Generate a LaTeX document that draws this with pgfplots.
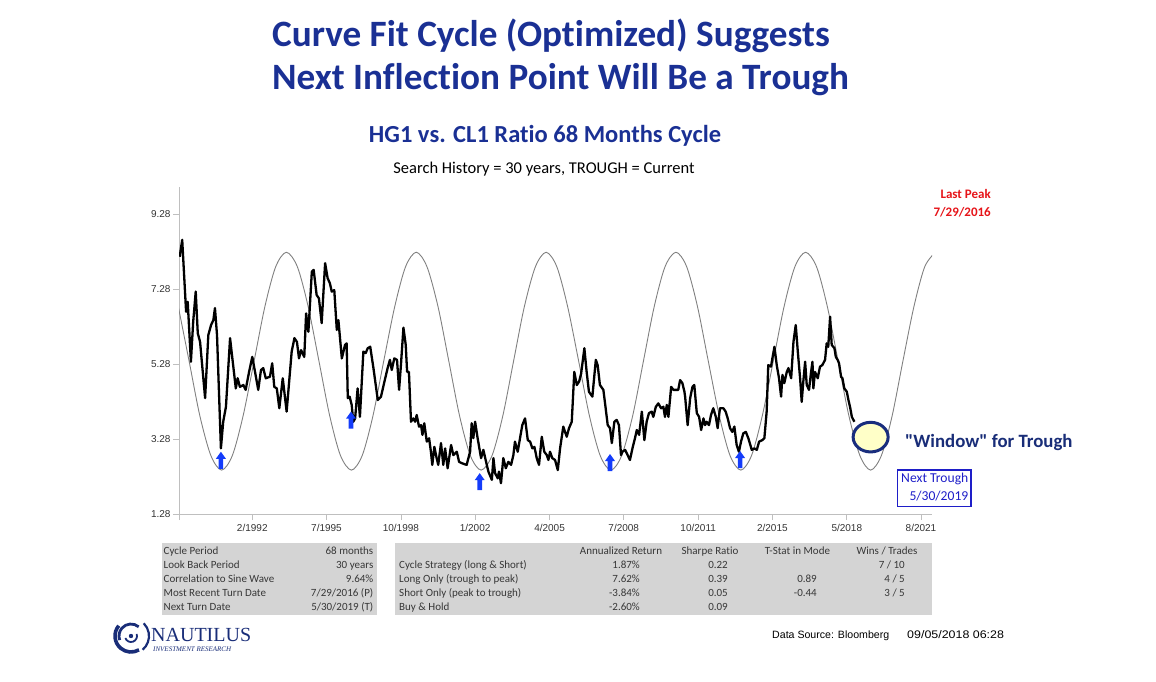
\documentclass[border=0pt]{standalone}
\usepackage{pgfplots}
\pgfplotsset{compat=1.18}
\usepackage{pgfplotstable}
\usepackage{fontspec}
\setmainfont{Carlito}[Ligatures={NoCommon,TeXOff}]
\newfontfamily\lib{Liberation Sans}
\newfontfamily\libserif{Liberation Serif}

\definecolor{titleblue}{RGB}{26,48,148}
\definecolor{navy}{RGB}{25,45,120}
\definecolor{arrowblue}{RGB}{20,60,250}
\definecolor{peakred}{RGB}{230,20,25}
\definecolor{boxblue}{RGB}{30,30,200}
\definecolor{tablegray}{RGB}{212,212,212}
\definecolor{tabletext}{RGB}{55,55,55}
\definecolor{sinegray}{RGB}{128,128,128}
\definecolor{windowfill}{RGB}{255,255,200}
\definecolor{windowline}{RGB}{25,45,125}

\pgfdeclareplotmark{uparrow}{%
 \pgfpathmoveto{\pgfpoint{0pt}{0pt}}%
 \pgfpathlineto{\pgfpoint{5pt}{-7pt}}%
 \pgfpathlineto{\pgfpoint{2.3pt}{-7pt}}%
 \pgfpathlineto{\pgfpoint{2.3pt}{-17pt}}%
 \pgfpathlineto{\pgfpoint{-2.3pt}{-17pt}}%
 \pgfpathlineto{\pgfpoint{-2.3pt}{-7pt}}%
 \pgfpathlineto{\pgfpoint{-5pt}{-7pt}}%
 \pgfpathclose
 \pgfusepathqfill}

\pgfdeclareplotmark{window}{%
 \pgfpathellipse{\pgfpointorigin}{\pgfpoint{17.5pt}{0pt}}{\pgfpoint{0pt}{14.8pt}}%
 \pgfusepathqfillstroke}

\pgfplotstableread{
year value
1989.22 8.14
1989.33 8.59
1989.50 6.67
1989.57 6.94
1989.71 5.34
1989.81 6.41
1989.92 7.21
1990.01 6.10
1990.11 5.87
1990.33 4.37
1990.47 6.05
1990.59 6.32
1990.69 6.45
1990.76 6.77
1990.85 6.05
1991.02 3.03
1991.12 3.74
1991.24 4.14
1991.42 5.97
1991.52 5.43
1991.67 4.63
1991.75 4.90
1991.85 4.67
1992.00 4.72
1992.10 4.59
1992.25 5.07
1992.39 5.47
1992.51 5.07
1992.65 4.59
1992.77 5.12
1992.87 5.17
1992.98 4.90
1993.16 4.94
1993.26 5.30
1993.35 4.67
1993.46 4.63
1993.57 4.10
1993.72 4.90
1993.89 4.01
1994.11 5.61
1994.23 5.97
1994.34 5.87
1994.43 5.43
1994.52 5.65
1994.66 5.47
1994.74 6.63
1994.84 6.14
1994.99 7.74
1995.07 7.79
1995.20 7.12
1995.30 7.03
1995.42 6.37
1995.57 7.97
1995.68 7.57
1995.78 7.43
1995.86 7.21
1995.97 7.25
1996.08 6.19
1996.15 6.45
1996.30 5.43
1996.44 5.79
1996.51 5.83
1996.56 4.37
1996.64 4.41
1996.73 4.19
1996.80 3.74
1996.88 3.83
1996.99 4.63
1997.09 3.87
1997.24 5.61
1997.34 5.57
1997.43 5.70
1997.54 5.74
1997.68 5.17
1997.87 4.32
1998.01 4.41
1998.16 4.81
1998.30 5.17
1998.40 5.39
1998.48 5.12
1998.59 5.43
1998.71 5.39
1998.80 4.59
1998.88 5.25
1998.99 6.25
1999.09 5.79
1999.15 5.07
1999.23 5.07
1999.32 3.74
1999.42 3.83
1999.50 3.74
1999.57 3.92
1999.67 3.61
1999.76 3.65
1999.82 3.39
1999.90 3.70
2000.01 3.21
2000.11 3.30
2000.19 2.94
2000.25 2.59
2000.34 3.07
2000.44 2.77
2000.51 2.59
2000.63 3.17
2000.73 2.59
2000.81 3.03
2000.92 2.50
2001.07 3.12
2001.17 2.85
2001.32 2.94
2001.42 2.67
2001.56 2.63
2001.75 2.59
2001.90 2.94
2001.97 3.70
2002.04 3.30
2002.12 3.74
2002.23 3.30
2002.38 2.77
2002.48 2.99
2002.58 2.72
2002.70 2.41
2002.85 2.19
2002.92 2.77
2002.99 2.37
2003.11 2.23
2003.16 2.41
2003.25 2.10
2003.35 2.77
2003.46 2.50
2003.57 2.67
2003.69 2.59
2003.79 2.85
2003.86 3.21
2003.98 2.94
2004.08 3.30
2004.18 3.65
2004.30 3.83
2004.42 3.25
2004.52 3.21
2004.62 3.03
2004.71 3.07
2004.81 2.77
2004.91 2.59
2005.03 3.34
2005.14 2.94
2005.25 2.85
2005.32 2.72
2005.39 2.94
2005.49 2.77
2005.61 2.72
2005.73 2.45
2005.83 3.03
2005.97 3.61
2006.12 3.34
2006.22 3.57
2006.34 3.74
2006.45 5.07
2006.56 4.72
2006.66 4.81
2006.75 5.03
2006.89 5.70
2006.99 5.07
2007.09 4.54
2007.24 4.41
2007.39 5.39
2007.47 5.25
2007.57 4.72
2007.72 4.59
2007.82 4.10
2007.91 3.65
2008.01 3.57
2008.09 3.17
2008.20 3.74
2008.30 3.79
2008.40 3.65
2008.49 2.85
2008.55 2.94
2008.67 2.99
2008.78 2.85
2008.88 2.72
2008.99 3.03
2009.10 3.30
2009.18 3.52
2009.28 3.39
2009.40 4.01
2009.51 3.25
2009.61 3.74
2009.71 3.97
2009.83 4.01
2009.90 3.87
2010.01 4.14
2010.12 4.23
2010.24 4.10
2010.34 4.14
2010.41 3.87
2010.49 4.19
2010.56 3.87
2010.68 4.67
2010.78 4.59
2010.88 4.59
2010.99 4.59
2011.07 4.85
2011.17 4.77
2011.26 4.54
2011.29 4.41
2011.40 3.65
2011.51 4.37
2011.61 4.67
2011.69 4.72
2011.80 3.97
2011.90 3.87
2011.99 3.52
2012.09 3.83
2012.16 3.65
2012.23 3.74
2012.33 3.65
2012.42 3.92
2012.52 4.10
2012.63 3.87
2012.71 3.57
2012.81 4.10
2012.96 4.10
2013.06 4.01
2013.15 3.83
2013.25 3.57
2013.35 3.47
2013.44 3.61
2013.54 3.12
2013.64 2.94
2013.73 3.21
2013.83 3.43
2013.94 3.47
2014.05 3.30
2014.20 2.99
2014.31 3.03
2014.42 2.99
2014.52 3.21
2014.66 3.25
2014.75 3.30
2014.85 4.01
2014.92 5.25
2015.04 5.21
2015.10 5.43
2015.19 5.74
2015.29 5.25
2015.39 4.90
2015.48 4.41
2015.54 4.99
2015.62 4.77
2015.73 5.07
2015.80 5.17
2015.92 4.90
2016.02 5.87
2016.12 6.32
2016.21 5.61
2016.31 4.90
2016.38 4.27
2016.45 4.81
2016.53 5.34
2016.60 4.72
2016.70 4.59
2016.79 5.07
2016.85 5.34
2016.89 4.63
2016.96 5.07
2017.08 4.90
2017.18 5.21
2017.28 5.25
2017.40 5.39
2017.47 5.83
2017.54 5.74
2017.62 6.54
2017.69 5.79
2017.81 5.70
2017.87 5.47
2017.95 5.39
2018.01 5.30
2018.10 4.94
2018.16 4.90
2018.24 4.63
2018.35 4.54
2018.42 4.32
2018.49 4.14
2018.57 3.87
2018.68 3.74
}\ratio

\pgfplotstableread{
year value
1989.16 6.81
1989.63 5.36
1990.10 3.90
1990.58 2.84
1991.05 2.45
1991.52 2.84
1991.99 3.90
1992.47 5.36
1992.94 6.81
1993.41 7.87
1993.88 8.26
1994.36 7.87
1994.83 6.81
1995.30 5.36
1995.77 3.90
1996.24 2.84
1996.72 2.45
1997.19 2.84
1997.66 3.90
1998.13 5.36
1998.61 6.81
1999.08 7.87
1999.55 8.26
2000.02 7.87
2000.50 6.81
2000.97 5.36
2001.44 3.90
2001.91 2.84
2002.38 2.45
2002.86 2.84
2003.33 3.90
2003.80 5.36
2004.27 6.81
2004.75 7.87
2005.22 8.26
2005.69 7.87
2006.16 6.81
2006.64 5.36
2007.11 3.90
2007.58 2.84
2008.05 2.45
2008.52 2.84
2009.00 3.90
2009.47 5.36
2009.94 6.81
2010.41 7.87
2010.89 8.26
2011.36 7.87
2011.83 6.81
2012.30 5.36
2012.78 3.90
2013.25 2.84
2013.72 2.45
2014.19 2.84
2014.66 3.90
2015.14 5.36
2015.61 6.81
2016.08 7.87
2016.55 8.26
2017.03 7.87
2017.50 6.81
2017.97 5.36
2018.44 3.90
2018.92 2.84
2019.39 2.45
2019.86 2.84
2020.33 3.90
2020.80 5.36
2021.28 6.81
2021.75 7.87
2022.22 8.26
}\sine

\begin{document}
\begin{tikzpicture}[x=1pt,y=1pt]
\path[use as bounding box] (0,0) rectangle (1156,681);

% titles
\node[anchor=base west, inner sep=0, text=titleblue, font=\fontsize{37.2}{44}\selectfont\bfseries] at (272,634) {Curve Fit Cycle (Optimized) Suggests};
\node[anchor=base west, inner sep=0, text=titleblue, font=\fontsize{37.2}{44}\selectfont\bfseries] at (272,591) {Next Inflection Point Will Be a Trough};
\node[anchor=base, inner sep=0, text=titleblue, font=\fontsize{24.5}{29}\selectfont\bfseries] at (545,538) {HG1 vs. CL1 Ratio 68 Months Cycle};
\node[anchor=base, inner sep=0, text=black, font=\fontsize{16.5}{20}\selectfont] at (544,507) {Search History = 30 years, TROUGH = Current};

\begin{axis}[
  at={(179pt,167pt)}, anchor=south west,
  scale only axis, width=753pt, height=327pt,
  xmin=1989.19, xmax=2022.07, ymin=1.28, ymax=10,
  axis x line*=bottom, axis y line*=left,
  axis line style={-, draw=black!25, line width=0.8pt},
  xtick={1989.19,1992.39,1995.63,1998.88,2002.12,2005.37,2008.61,2011.86,2015.10,2018.35,2021.59},
  xticklabels={,2/1992,7/1995,10/1998,1/2002,4/2005,7/2008,10/2011,2/2015,5/2018,8/2021},
  ytick={1.28,3.28,5.28,7.28,9.28},
  yticklabels={1.28,3.28,5.28,7.28,9.28},
  tick align=outside, major tick length=6pt,
  tick style={draw=black!25, line width=0.8pt},
  ticklabel style={font=\lib\fontsize{10}{12}\selectfont, text=black!80},
  xticklabel style={yshift=-1pt},
  yticklabel style={xshift=1pt},
]
\addplot[sinegray, line width=0.9pt, smooth, no markers] table[x=year, y=value] {\sine};
\addplot[black, line width=2.3pt, line join=round, no markers] table[x=year, y=value] {\ratio};
\addplot[only marks, mark=uparrow, arrowblue, mark options={fill=arrowblue, draw=none}] coordinates {
  (1991.02,2.94) (1996.70,4.01) (2002.32,2.37) (2008.01,2.88) (2013.69,2.96)};
\addplot[only marks, mark=window, mark options={fill=windowfill, draw=windowline, line width=3pt}] coordinates {(2019.39,3.33)};
\end{axis}

% annotations
\node[anchor=base east, inner sep=0, text=peakred, font=\fontsize{13}{15}\selectfont\bfseries] at (991,482) {Last Peak};
\node[anchor=base east, inner sep=0, text=peakred, font=\fontsize{13}{15}\selectfont\bfseries] at (991,464) {7/29/2016};
\node[anchor=base west, inner sep=0, text=navy, font=\fontsize{18.8}{22}\selectfont\bfseries] at (905,234) {"Window" for Trough};
\draw[boxblue, line width=1.3pt] (897.7,174.3) rectangle (971,211);
\node[anchor=base east, inner sep=0, text=boxblue, font=\fontsize{13.6}{16}\selectfont] at (968.5,198.5) {Next Trough};
\node[anchor=base east, inner sep=0, text=boxblue, font=\fontsize{13.6}{16}\selectfont] at (968.5,180.5) {5/30/2019};

% tables
\fill[tablegray] (161.7,66) rectangle (376.7,137.7);
\fill[tablegray] (395,66) rectangle (931.7,137.7);
\begin{scope}[every node/.style={inner sep=0, text=tabletext, font=\fontsize{11}{13}\selectfont}]
\node[anchor=base west] at (163.5,127) {Cycle Period};
\node[anchor=base west] at (163.5,113) {Look Back Period};
\node[anchor=base west] at (163.5,99) {Correlation to Sine Wave};
\node[anchor=base west] at (163.5,85) {Most Recent Turn Date};
\node[anchor=base west] at (163.5,71) {Next Turn Date};
\node[anchor=base east] at (373.5,127) {68 months};
\node[anchor=base east] at (373.5,113) {30 years};
\node[anchor=base east] at (373.5,99) {9.64\%};
\node[anchor=base east] at (373.5,85) {7/29/2016 (P)};
\node[anchor=base east] at (373.5,71) {5/30/2019 (T)};

\node[anchor=base] at (621,127) {Annualized Return};
\node[anchor=base] at (710,127) {Sharpe Ratio};
\node[anchor=base] at (797.5,127) {T-Stat in Mode};
\node[anchor=base] at (887,127) {Wins / Trades};
\node[anchor=base west] at (399,113) {Cycle Strategy (long \& Short)};
\node[anchor=base west] at (399,99) {Long Only (trough to peak)};
\node[anchor=base west] at (399,85) {Short Only (peak to trough)};
\node[anchor=base west] at (399,71) {Buy \& Hold};
\node[anchor=base east] at (640,113) {1.87\%};
\node[anchor=base east] at (640,99) {7.62\%};
\node[anchor=base east] at (640,85) {-3.84\%};
\node[anchor=base east] at (640,71) {-2.60\%};
\node[anchor=base east] at (728,113) {0.22};
\node[anchor=base east] at (728,99) {0.39};
\node[anchor=base east] at (728,85) {0.05};
\node[anchor=base east] at (728,71) {0.09};
\node[anchor=base east] at (817,99) {0.89};
\node[anchor=base east] at (817,85) {-0.44};
\node[anchor=base east] at (905,113) {7 / 10};
\node[anchor=base east] at (905,99) {4 / 5};
\node[anchor=base east] at (905,85) {3 / 5};
\end{scope}

% footer
\node[anchor=base west, inner sep=0, font=\lib\fontsize{10.6}{12}\selectfont] at (772,43) {Data Source: Bloomberg};
\node[anchor=base west, inner sep=0, xscale=1.13, font=\lib\fontsize{11}{12}\selectfont] at (907,43) {09/05/2018 06:28};

% logo
\begin{scope}[navy]
\draw[line width=3.6pt] (131,45) ++(140:16) arc (140:300:16);
\draw[line width=2.8pt] (131,45) ++(50:12) arc (50:200:12);
\draw[line width=2.2pt] (131,45) ++(-50:18) arc (-50:45:18);
\draw[line width=1.8pt] (131,45) ++(200:6) arc (200:380:6);
\fill (131,45) circle (2.2);
\end{scope}
\node[anchor=base west, inner sep=0, text=navy, font=\libserif\fontsize{20}{22}\selectfont] at (151,40) {NAUTILUS};
\node[anchor=base west, inner sep=0, text=navy, font=\libserif\itshape\fontsize{7}{8}\selectfont] at (153,30) {INVESTMENT RESEARCH};
\end{tikzpicture}
\end{document}
